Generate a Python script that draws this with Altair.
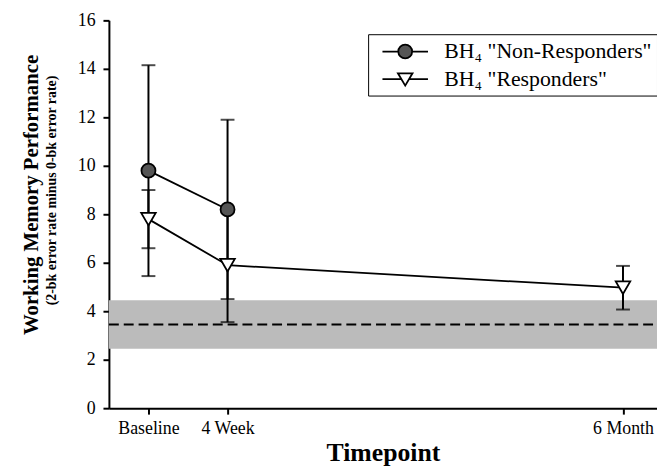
import altair as alt
import pandas as pd

# ---- data ----
tick_months = [0, 1, 6]
tick_labels = ["Baseline", "4 Week", "6 Month"]

groups = ['BH₄ "Non-Responders"', 'BH₄ "Responders"']

nr_months = [0, 1]
nr_mean = [9.8, 8.2]
nr_err = [4.35, 3.7]

r_months = [0, 1, 6]
r_mean = [7.8, 5.9, 4.97]
r_err = [1.2, 2.35, 0.9]

ctrl_mean = [3.45]
ctrl_lo = [2.45]
ctrl_hi = [4.45]

y_title = "Working Memory Performance"
y_subtitle = "(2-bk error rate minus 0-bk error rate)"
x_title = "Timepoint"

# ---- tables ----
rows = []
for m, v, e in zip(nr_months, nr_mean, nr_err):
    rows.append({"group": groups[0], "month": m, "mean": v, "lo": v - e, "hi": v + e})
for m, v, e in zip(r_months, r_mean, r_err):
    rows.append({"group": groups[1], "month": m, "mean": v, "lo": v - e, "hi": v + e})
df = pd.DataFrame(rows)
band_df = pd.DataFrame({"m": ctrl_mean, "lo": ctrl_lo, "hi": ctrl_hi})
sub_df = pd.DataFrame({"t": [y_subtitle]})

W, H = 554, 392
FONT = "Liberation Serif"

label_expr = " : ".join(
    [f"datum.value == {m} ? '{l}'" for m, l in zip(tick_months[:-1], tick_labels[:-1])]
) + f" : '{tick_labels[-1]}'"

x_scale = alt.Scale(domain=[-0.5, 6.43], nice=False, zero=False)
y_scale = alt.Scale(domain=[0, 16], nice=False)

x_axis = alt.Axis(values=tick_months, labelExpr=label_expr, title=x_title,
                  labelFont=FONT, titleFont=FONT,
                  labelFontSize=18, titleFontSize=26, titleFontWeight="bold",
                  labelPadding=6, titlePadding=2, tickSize=6, grid=False)
y_axis = alt.Axis(values=list(range(0, 17, 2)), title=y_title,
                  labelFont=FONT, titleFont=FONT,
                  labelFontSize=18, titleFontSize=21, titleFontWeight="bold",
                  labelPadding=8, titlePadding=36, titleY=176, tickSize=6, grid=False)


def X(field="month:Q"):
    return alt.X(field, scale=x_scale, axis=x_axis, title=x_title)


def Y(field):
    return alt.Y(field, scale=y_scale, axis=y_axis, title=y_title)


band = alt.Chart(band_df).mark_rect(color="#bbbbbb").encode(
    y=Y("lo:Q"), y2="hi:Q", x=alt.value(0), x2=alt.value(W)
)
dashed = alt.Chart(band_df).mark_rule(color="black", strokeWidth=2, strokeDash=[10, 5]).encode(
    y=Y("m:Q"), x=alt.value(0), x2=alt.value(W)
)

base = alt.Chart(df)
bars = base.mark_rule(color="black", strokeWidth=2).encode(x=X(), y=Y("lo:Q"), y2="hi:Q")
caps = base.transform_fold(["lo", "hi"], as_=["k", "v"]).mark_tick(
    orient="horizontal", size=14, thickness=2, color="black"
).encode(x=X(), y=Y("v:Q"))
lines = base.mark_line(color="black", strokeWidth=1.8).encode(
    x=X(), y=Y("mean:Q"), detail="group:N"
)
pts_nr = base.transform_filter(alt.datum.group == groups[0]).mark_point(
    shape="circle", filled=True, fill="#555555", stroke="black", strokeWidth=1.8,
    size=200, opacity=1
).encode(x=X(), y=Y("mean:Q"))
pts_r = base.transform_filter(alt.datum.group == groups[1]).mark_point(
    shape="triangle-down", filled=True, fill="white", stroke="black", strokeWidth=1.8,
    size=215, opacity=1
).encode(x=X(), y=Y("mean:Q"))

# legend symbols: line + marker (unit [-1,1] = 23 px)
nr_path = "M-2,0L-0.61,0M0.61,0L2,0M0.61,0A0.61,0.61,0,1,1,-0.61,0A0.61,0.61,0,1,1,0.61,0Z"
r_path = "M-2,0L-0.33,0M0.33,0L2,0M-0.64,-0.52L0.64,-0.52L0,0.56Z"

legend_layer = base.mark_point(filled=True, strokeWidth=1.8, opacity=0).encode(
    x=X(), y=Y("mean:Q"),
    shape=alt.Shape("group:N", scale=alt.Scale(domain=groups, range=[nr_path, r_path]),
                    legend=alt.Legend(title=None, orient="none", legendX=262, legendY=14,
                                      symbolSize=529, symbolOpacity=1, symbolOffset=20,
                                      symbolStrokeColor="black", symbolStrokeWidth=1.8,
                                      labelFont=FONT, labelFontSize=22, labelColor="black",
                                      labelLimit=400, fillColor="white", strokeColor="black",
                                      padding=5, rowPadding=4, labelOffset=27,
                                      cornerRadius=0)),
    fill=alt.Fill("group:N", scale=alt.Scale(domain=groups, range=["#555555", "white"])),
    stroke=alt.Stroke("group:N", scale=alt.Scale(domain=groups, range=["black", "black"])),
)

subtitle = alt.Chart(sub_df).mark_text(
    angle=270, font=FONT, fontSize=14, fontWeight="bold", color="black",
    align="center", baseline="middle"
).encode(text="t:N", x=alt.value(-57), y=alt.value(172))

chart = alt.layer(band, dashed, bars, caps, lines, pts_nr, pts_r, legend_layer, subtitle).properties(
    width=W, height=H,
    padding={"left": 102, "top": 10, "right": 0, "bottom": 62},
    autosize=alt.AutoSizeParams(type="none"),
).configure_view(stroke=None).configure_axis(
    labelFont=FONT, titleFont=FONT, labelColor="black", titleColor="black",
    domainColor="black", tickColor="black", domainWidth=2, tickWidth=2
)

chart.save("out.html", embed_options={"renderer": "svg", "actions": False})
